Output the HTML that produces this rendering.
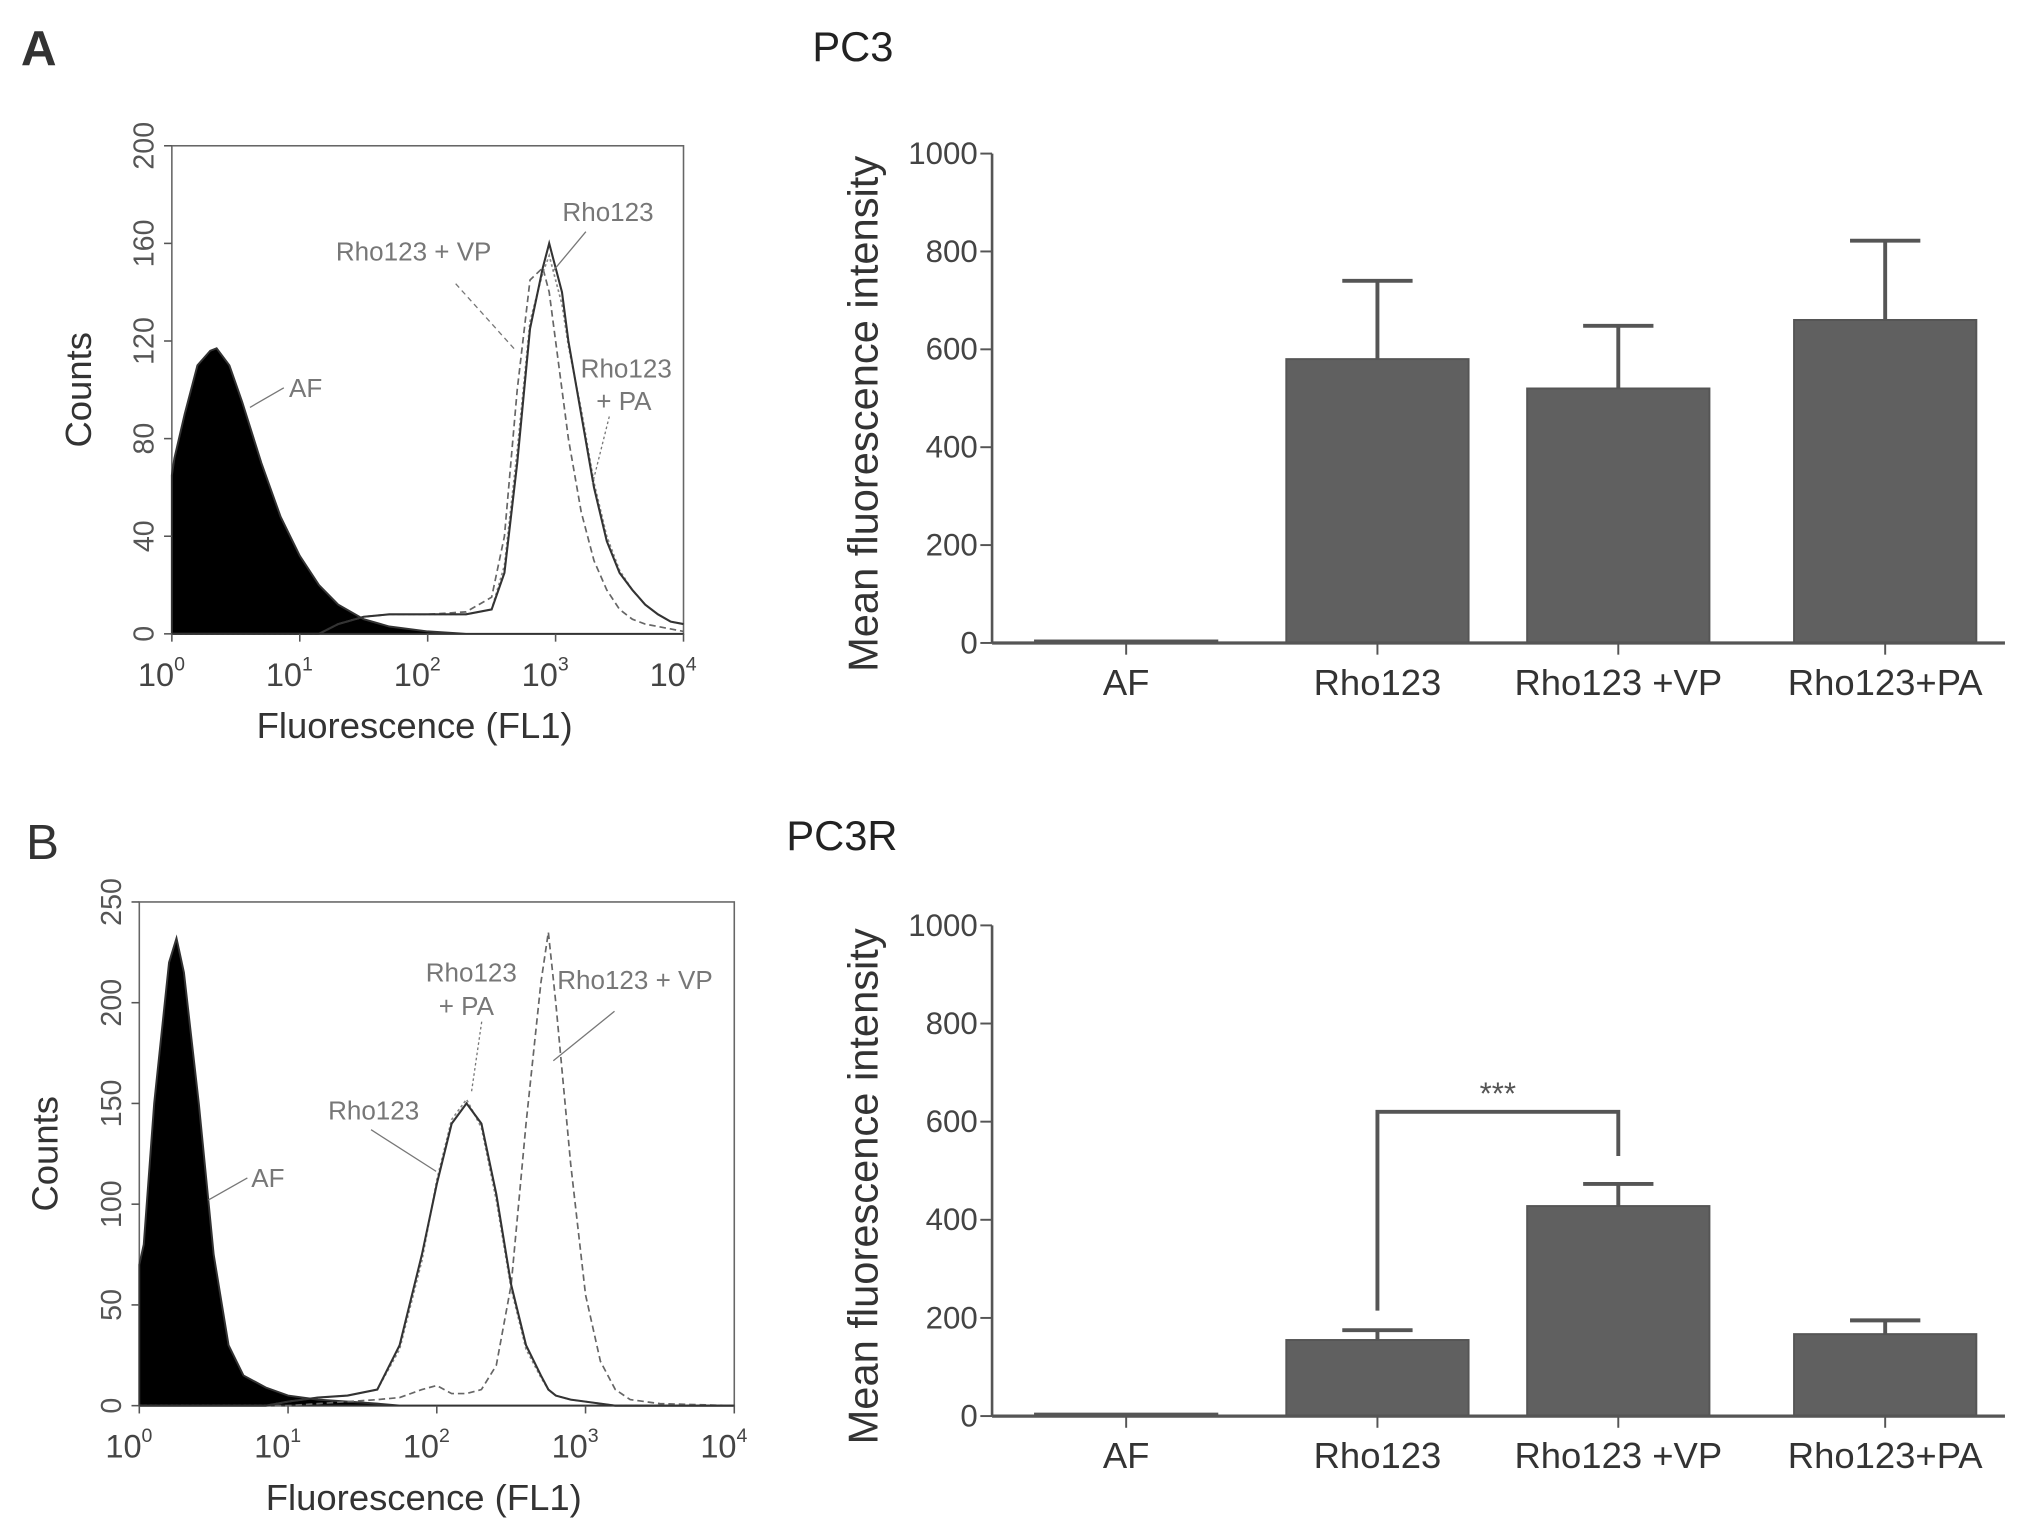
<!DOCTYPE html>
<html><head><meta charset="utf-8"><style>
html,body{margin:0;padding:0;background:#fff;}
svg{display:block;font-family:"Liberation Sans",sans-serif;}
</style></head><body>
<svg id="fig" width="2031" height="1528" viewBox="0 0 1560 1174" preserveAspectRatio="none" xmlns="http://www.w3.org/2000/svg">
<rect width="1560" height="1174" fill="#fff"/>
<text x="16" y="50" font-size="38" font-weight="bold" fill="#333">A</text>
<text x="624" y="47" font-size="32" fill="#222">PC3</text>
<text x="20" y="660" font-size="38" fill="#333">B</text>
<text x="604" y="653" font-size="32" fill="#222">PC3R</text>
<g id="g"></g>
</svg>
<script>
// ---- Data ----
const barCategories = ["AF","Rho123","Rho123 +VP","Rho123+PA"];
const pc3Means = [5, 580, 520, 660];
const pc3Errors = [0, 160, 128, 162];
const pc3rMeans = [5, 155, 428, 167];
const pc3rErrors = [0, 20, 45, 28];
const barTicks = [0,200,400,600,800,1000];

// histogram data: log10(fluorescence), counts
const histTopLogX = [0,0.02,0.1,0.2,0.3,0.35,0.45,0.55,0.7,0.85,1.0,1.15,1.3,1.5,1.7,2.0,2.3,2.5,2.6,2.7,2.8,2.9,2.95,3.0,3.05,3.1,3.2,3.3,3.4,3.5,3.6,3.7,3.8,3.9,4.0];
const pc3AF = [65,72,90,110,116,117,110,95,70,48,32,20,12,6,3,1,0,0,0,0,0,0,0,0,0,0,0,0,0,0,0,0,0,0,0];
const pc3Rho = [0,0,0,0,0,0,0,0,0,0,0,0,4,7,8,8,8,10,25,70,125,150,160,150,140,120,90,60,38,25,18,12,8,5,4];
const pc3VP = [0,0,0,0,0,0,0,0,0,0,0,0,4,7,8,8,9,15,40,100,145,150,140,120,100,80,50,30,18,10,6,4,3,2,1];
const pc3PA = [0,0,0,0,0,0,0,0,0,0,0,0,4,7,8,8,8,10,28,75,128,148,155,145,135,118,92,62,40,26,18,12,8,5,4];
const histTopTicks = [0,40,80,120,160,200];

const histBotLogX = [0,0.03,0.1,0.2,0.25,0.3,0.4,0.5,0.6,0.7,0.85,1.0,1.2,1.4,1.6,1.75,1.9,2.0,2.1,2.2,2.3,2.4,2.5,2.6,2.7,2.75,2.8,2.9,3.0,3.1,3.2,3.3,3.5,4.0];
const pc3rAF = [70,80,150,220,232,215,150,75,30,15,9,5,3,2,1,0,0,0,0,0,0,0,0,0,0,0,0,0,0,0,0,0,0,0];
const pc3rRho = [0,0,0,0,0,0,0,0,0,0,0,2,4,5,8,30,75,110,140,150,140,105,60,30,15,8,5,3,2,1,0,0,0,0];
const pc3rPA = [0,0,0,0,0,0,0,0,0,0,0,2,4,5,8,28,72,112,142,152,138,102,58,28,14,8,5,3,2,1,0,0,0,0];
const pc3rVP = [0,0,0,0,0,0,0,0,0,0,0,0,1,2,3,4,8,10,6,6,8,20,60,140,210,235,200,120,55,22,8,3,1,0];
const histBotTicks = [0,50,100,150,200,250];

const NS="http://www.w3.org/2000/svg";
const G=document.getElementById('g');
function el(tag,attrs,parent){const e=document.createElementNS(NS,tag);for(const k in attrs)e.setAttribute(k,attrs[k]);(parent||G).appendChild(e);return e;}
function txt(s,attrs,parent){const e=el('text',attrs,parent);e.textContent=s;return e;}

function histogram(cfg){
  const {x0,x1,y0,y1,ymax,ticks,logX,af,curves} = cfg;
  const sx=v=>x0+(x1-x0)*v/4, sy=v=>y0-(y0-y1)*v/ymax;
  const g=el('g',{});
  
  
  const box=el('rect',{x:x0,y:y1,width:x1-x0,height:y0-y1,fill:'none',stroke:'#666','stroke-width':1.2},g);
  
  
  let d='M'+sx(logX[0])+','+sy(0);
  logX.forEach((v,i)=>{d+=' L'+sx(v)+','+sy(af[i]);});
  d+=' L'+sx(logX[logX.length-1])+','+sy(0)+' Z';
  const p=el('path',{d:d,fill:'#000',stroke:'#333','stroke-width':1.5},g);
  
  
  curves.forEach(c=>{
    let dd='';
    logX.forEach((v,i)=>{dd+=(i?' L':'M')+sx(v)+','+sy(c.vals[i]);});
    const q=el('path',{d:dd,fill:'none',stroke:c.color,'stroke-width':c.w,'stroke-dasharray':c.dash},g);
    
    
  });
  ticks.forEach(t=>{
    const y=sy(t);
    el('line',{x1:x0-6,x2:x0,y1:y,y2:y,stroke:'#555','stroke-width':1.2},g);
    const lt=txt(String(t),{x:0,y:0,'font-size':22,fill:'#555','text-anchor':'middle',transform:`translate(${x0-14},${y}) rotate(-90)`},g);
    
    
  });
  for(let k=0;k<=4;k++){
    const x=sx(k);
    el('line',{x1:x,x2:x,y1:y0,y2:y0+6,stroke:'#555','stroke-width':1.2},g);
    const lt=txt('10',{x:x-8,y:y0+40,'font-size':25,fill:'#444','text-anchor':'middle'},g);
    const s=el('tspan',{dy:-12,'font-size':15},lt);s.textContent=String(k);
    
    
  }
  const xt=txt('Fluorescence (FL1)',{x:(x0+x1)/2-10,y:y0+80,'font-size':28,fill:'#333','text-anchor':'middle'},g);
  
  
  const yt=txt('Counts',{x:0,y:0,'font-size':28,fill:'#333','text-anchor':'middle',transform:`translate(${cfg.countsX},${(y0+y1)/2}) rotate(-90)`},g);
  
  
  return g;
}

function barChart(cfg){
  const {ax,x1,y0,y1,means,errs,name}=cfg;
  const sy=v=>y0-(y0-y1)*v/1000;
  const centers=[865,1058,1243,1448], bw=140;
  const g=el('g',{});
  
  
  means.forEach((m,i)=>{
    const cx=centers[i];
    if(errs[i]>0){
      el('line',{x1:cx,x2:cx,y1:sy(m),y2:sy(m+errs[i]),stroke:'#555','stroke-width':3},g);
      el('line',{x1:cx-27,x2:cx+27,y1:sy(m+errs[i]),y2:sy(m+errs[i]),stroke:'#555','stroke-width':3},g);
    }
    const r=el('rect',{x:cx-bw/2,y:sy(m),width:bw,height:y0-sy(m),fill:'#606060',stroke:'#555','stroke-width':1.5},g);
    
    
    el('line',{x1:cx,x2:cx,y1:y0,y2:y0+9,stroke:'#555','stroke-width':1.5},g);
    const lt=txt(barCategories[i],{x:cx,y:y0+40,'font-size':28,fill:'#333','text-anchor':'middle'},g);
    
    
  });
  el('line',{x1:ax,x2:ax,y1:y1,y2:y0,stroke:'#555','stroke-width':2},g);
  el('line',{x1:ax,x2:x1,y1:y0,y2:y0,stroke:'#555','stroke-width':2.5},g);
  barTicks.forEach(t=>{
    const y=sy(t);
    el('line',{x1:ax-9,x2:ax,y1:y,y2:y,stroke:'#555','stroke-width':1.5},g);
    const lt=txt(String(t),{x:ax-11,y:y+8,'font-size':24,fill:'#444','text-anchor':'end'},g);
    
    
  });
  const yt=txt('Mean fluorescence intensity',{x:0,y:0,'font-size':32,fill:'#333','text-anchor':'middle',transform:`translate(${ax-88},${(y0+y1)/2+12}) rotate(-90)`},g);
  
  
  return {g,sy,centers};
}

histogram({name:'pc3-histogram',x0:132,x1:525,y0:487,y1:112,ymax:200,ticks:histTopTicks,logX:histTopLogX,af:pc3AF,countsX:70,
  curves:[{name:'rho123-vp-curve',vals:pc3VP,color:'#666',w:1.3,dash:'5,3'},
          {name:'rho123-pa-curve',vals:pc3PA,color:'#888',w:1.3,dash:'2,2'},
          {name:'rho123-curve',vals:pc3Rho,color:'#333',w:1.6,dash:'none'}]});
histogram({name:'pc3r-histogram',x0:107,x1:564,y0:1080,y1:693,ymax:250,ticks:histBotTicks,logX:histBotLogX,af:pc3rAF,countsX:44,
  curves:[{name:'rho123-vp-curve',vals:pc3rVP,color:'#666',w:1.3,dash:'5,3'},
          {name:'rho123-pa-curve',vals:pc3rPA,color:'#888',w:1.3,dash:'2,2'},
          {name:'rho123-curve',vals:pc3rRho,color:'#333',w:1.6,dash:'none'}]});

function ann(s,x,y,lx1,ly1,lx2,ly2,dash){
  const t=txt(s,{x:x,y:y,'font-size':20,fill:'#777'});
  
  
  if(lx1!==null) el('line',{x1:lx1,y1:ly1,x2:lx2,y2:ly2,stroke:'#777','stroke-width':1,'stroke-dasharray':dash||'none'});
}
ann('Rho123 + VP',258,200,350,218,395,268,'4,3');
ann('Rho123',432,170,450,178,425,208);
ann('AF',222,305,192,313,218,298);
ann('Rho123',446,290,null);
ann('+ PA',458,315,468,320,455,372,'2,2');
ann('Rho123',327,754,null);
ann('+ PA',337,780,370,785,362,840,'2,2');
ann('Rho123 + VP',428,760,472,777,425,815);
ann('Rho123',252,860,285,868,335,900);
ann('AF',193,912,160,922,190,905);

const topChart=barChart({name:'pc3-bar-chart',ax:762,x1:1540,y0:494,y1:118,means:pc3Means,errs:pc3Errors});
const botChart=barChart({name:'pc3r-bar-chart',ax:762,x1:1540,y0:1088,y1:711,means:pc3rMeans,errs:pc3rErrors});
const cc=botChart.centers;
el('path',{d:`M${cc[1]},${botChart.sy(pc3rMeans[1]+pc3rErrors[1]+40)} L${cc[1]},${botChart.sy(620)} L${cc[2]},${botChart.sy(620)} L${cc[2]},${botChart.sy(530)}`,fill:'none',stroke:'#555','stroke-width':3});
const st=txt('***',{x:(cc[1]+cc[2])/2,y:botChart.sy(620)-6,'font-size':24,fill:'#555','text-anchor':'middle'});


</script>
</body></html>
